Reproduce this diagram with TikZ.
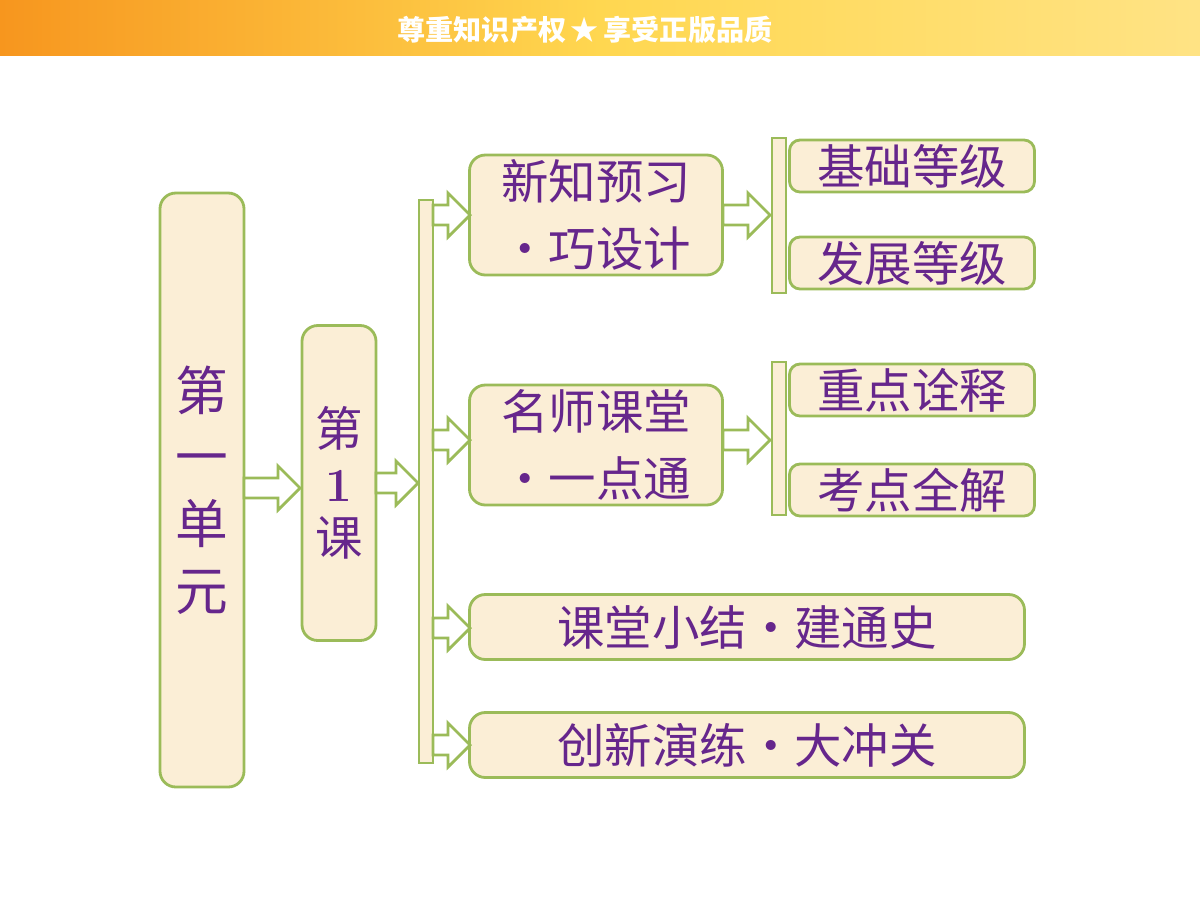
\documentclass[tikz,border=0pt]{standalone}
\usepackage{fontspec}
\newfontfamily\cjk{Noto Sans CJK SC}
\usetikzlibrary{positioning}
\definecolor{boxgreen}{RGB}{155,187,89}
\definecolor{boxfill}{RGB}{251,238,214}
\definecolor{txtpurple}{RGB}{102,38,140}
\definecolor{bannerA}{RGB}{247,150,30}
\definecolor{bannerB}{RGB}{255,215,80}
\tikzset{
  box/.style={draw=boxgreen, line width=1.6pt, fill=boxfill, rounded corners=9pt,
    text=txtpurple, font=\cjk\fontsize{27}{38}\selectfont, align=center, inner sep=0pt},
  bar/.style={draw=boxgreen, line width=1.6pt, fill=boxfill},
  blockarrow/.style={draw=boxgreen, line width=1.6pt, fill=white}
}
% hollow arrow from x1 to x2 at height y
\newcommand\barrow[3]{
  \draw[blockarrow] (#1,#3-10) -- (#2-22,#3-10) -- (#2-22,#3-22) -- (#2,#3)
    -- (#2-22,#3+22) -- (#2-22,#3+10) -- (#1,#3+10) -- cycle;}
\begin{document}
\begin{tikzpicture}[x=0.02cm,y=-0.02cm]
\useasboundingbox (0,0) rectangle (1200,900);
\shade[left color=bannerA, right color=bannerB!70!white, middle color=bannerB] (0,0) rectangle (1200,55);
\node[text=white, font=\cjk\bfseries\fontsize{16}{20}\selectfont] (banner) at (585,30) {尊重知识产权\,★\,享受正版品质};
% main boxes
\node[box, minimum width=84*0.02cm, minimum height=594*0.02cm, font=\cjk\fontsize{30}{38}\selectfont] (unit) at (202,490) {第\\一\\单\\元};
\node[box, minimum width=74*0.02cm, minimum height=315*0.02cm, font=\cjk\fontsize{27}{31}\selectfont] (lesson) at (339,483) {第\\\textbf{\rmfamily 1}\\课};
\draw[bar] (419,200) rectangle (433,763);
\node[box, minimum width=253*0.02cm, minimum height=120*0.02cm] (xinzhi) at (596,215) {新知预习\\•巧设计};
\node[box, minimum width=253*0.02cm, minimum height=120*0.02cm] (mingshi) at (596,445) {名师课堂\\•一点通};
\node[box, minimum width=555*0.02cm, minimum height=65*0.02cm] (xiaojie) at (747,627) {课堂小结•建通史};
\node[box, minimum width=555*0.02cm, minimum height=65*0.02cm] (yanlian) at (747,745) {创新演练•大冲关};
\draw[bar] (772,138) rectangle (786,293);
\draw[bar] (772,362) rectangle (786,515);
\node[box, rounded corners=6pt, minimum width=245*0.02cm, minimum height=52*0.02cm] (jichu) at (912,166) {基础等级};
\node[box, rounded corners=6pt, minimum width=245*0.02cm, minimum height=52*0.02cm] (fazhan) at (912,263) {发展等级};
\node[box, rounded corners=6pt, minimum width=245*0.02cm, minimum height=52*0.02cm] (zhongdian) at (912,390) {重点诠释};
\node[box, rounded corners=6pt, minimum width=245*0.02cm, minimum height=52*0.02cm] (kaodian) at (912,490) {考点全解};
% arrows
\barrow{244}{300}{488}
\barrow{376}{418}{483}
\foreach \yy in {215,440,628,745} {\barrow{433}{470}{\yy}}
\barrow{723}{770}{215}
\barrow{723}{770}{440}
\end{tikzpicture}
\end{document}
